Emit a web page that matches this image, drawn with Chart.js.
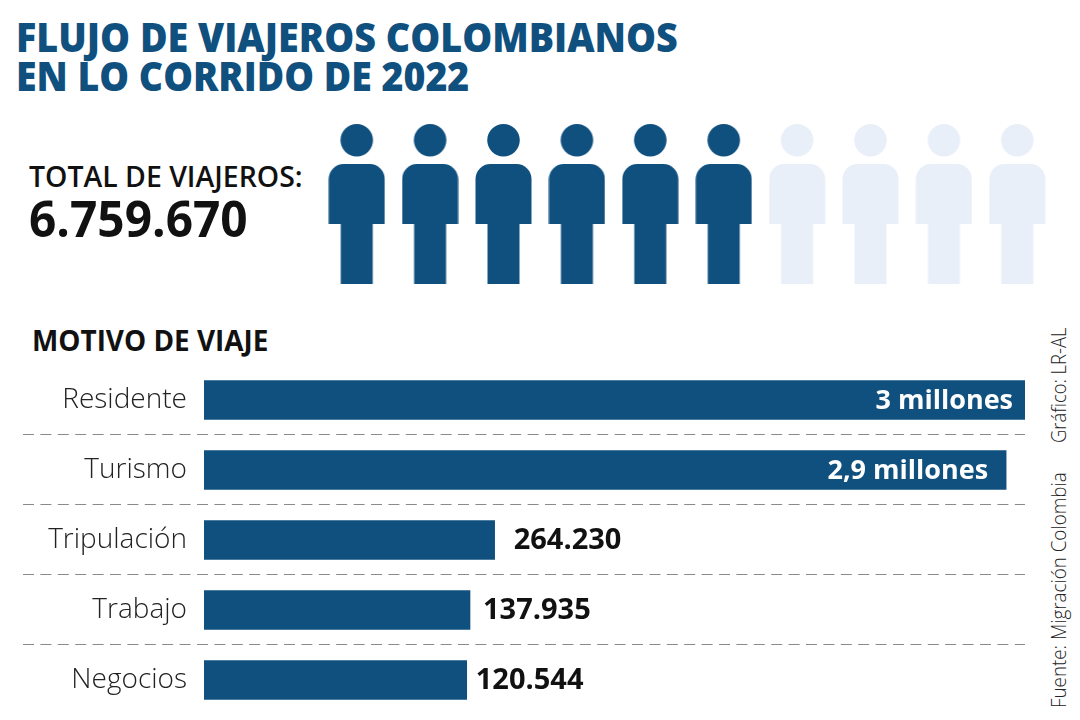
<!DOCTYPE html>
<html lang="es">
<head>
<meta charset="utf-8">
<title>Flujo de viajeros colombianos</title>
<script src="https://cdn.jsdelivr.net/npm/chart.js@4"></script>
<style>
  html, body { margin: 0; padding: 0; background: #fff; }
  body { width: 1080px; height: 720px; position: relative; overflow: hidden; font-family: "Open Sans", sans-serif; }
  .txt { position: absolute; white-space: nowrap; line-height: 1; transform-origin: 0 0; }
  canvas { position: absolute; }
  #bars { left: 0; top: 0; }
  #people { left: 320px; top: 114px; }
</style>
</head>
<body>
<div class="txt" data-w="662" style="left:16px;top:16px;font-size:41px;font-weight:800;color:#10507f">FLUJO DE VIAJEROS COLOMBIANOS</div>
<div class="txt" data-w="453" style="left:16px;top:55px;font-size:41px;font-weight:800;color:#10507f">EN LO CORRIDO DE 2022</div>
<div class="txt" data-w="274" style="left:29px;top:162px;font-size:28px;font-weight:600;color:#111">TOTAL DE VIAJEROS:</div>
<div class="txt" data-w="219" style="left:29px;top:193px;font-size:50px;font-weight:700;color:#111">6.759.670</div>
<div class="txt" data-w="236" style="left:32px;top:326px;font-size:28px;font-weight:700;color:#111">MOTIVO DE VIAJE</div>
<div class="txt" data-w="115" data-rot="1" style="left:1049px;top:443px;font-size:20px;font-weight:300;color:#222">Gráfico: LR-AL</div>
<div class="txt" data-w="236" data-rot="1" style="left:1049px;top:708px;font-size:20px;font-weight:300;color:#222">Fuente: Migración Colombia</div>

<canvas id="people" width="734" height="180"></canvas>
<canvas id="bars" width="1080" height="720"></canvas>

<script>
const categories = ['Residente', 'Turismo', 'Tripulación', 'Trabajo', 'Negocios'];
// bar lengths as drawn in the graphic (not to true scale), % of the longest bar
const barLengths = [100, 97.7, 35.4, 32.4, 32.0];
const valueLabels = ['3 millones', '2,9 millones', '264.230', '137.935', '120.544'];

const iconLabels = ['1', '2', '3', '4', '5', '6', '7', '8', '9', '10'];
const iconValues = [1, 1, 1, 1, 1, 1, 1, 1, 1, 1];
const iconsFilled = 6;

const BLUE = '#10507f';
const PALE = '#e9eff8';
const labelGaps = [-12, -18, 19, 13, 9];

// squeeze html text to the measured width, Open Sans runs wider than the original
document.querySelectorAll('.txt').forEach((el) => {
  const k = Number(el.dataset.w) / el.offsetWidth;
  el.style.transform = el.dataset.rot ? `rotate(-90deg) scaleX(${k})` : `scaleX(${k})`;
});

function personIcon(color) {
  const c = document.createElement('canvas');
  c.width = 57;
  c.height = 160;
  const ctx = c.getContext('2d');
  ctx.fillStyle = color;
  ctx.beginPath();
  ctx.arc(28.5, 16.25, 16.25, 0, Math.PI * 2);
  ctx.fill();
  ctx.beginPath();
  ctx.roundRect(0.5, 40, 56, 60, [15, 15, 0, 0]);
  ctx.fill();
  ctx.fillRect(12.5, 99.5, 32, 60.5);
  return c;
}

const fullIcon = personIcon(BLUE);
const paleIcon = personIcon(PALE);

new Chart(document.getElementById('people'), {
  type: 'line',
  data: {
    labels: iconLabels,
    datasets: [{
      data: iconValues,
      showLine: false,
      clip: false,
      pointStyle: (ctx) => (ctx.dataIndex < iconsFilled ? fullIcon : paleIcon),
      pointRadius: 30,
    }],
  },
  options: {
    responsive: false,
    animation: false,
    layout: { padding: 0, autoPadding: false },
    plugins: { legend: { display: false }, tooltip: { enabled: false } },
    scales: {
      x: { display: false, offset: true },
      y: { display: false, min: 0, max: 2 },
    },
  },
});

const separators = {
  id: 'separators',
  beforeDatasetsDraw(chart) {
    const { ctx, chartArea, scales } = chart;
    ctx.save();
    ctx.strokeStyle = '#8a8a8a';
    ctx.lineWidth = 1.2;
    ctx.setLineDash([11, 6.4]);
    for (let i = 0; i < categories.length - 1; i++) {
      const y = Math.round((scales.y.getPixelForValue(i) + scales.y.getPixelForValue(i + 1)) / 2) - 0.5;
      ctx.beginPath();
      ctx.moveTo(23, y);
      ctx.lineTo(chartArea.right, y);
      ctx.stroke();
    }
    ctx.restore();
  },
};

const valueTags = {
  id: 'valueTags',
  afterDatasetsDraw(chart) {
    const { ctx } = chart;
    ctx.save();
    ctx.textBaseline = 'middle';
    chart.getDatasetMeta(0).data.forEach((bar, i) => {
      const gap = labelGaps[i];
      const inside = gap < 0;
      ctx.font = inside ? '700 27px "Open Sans"' : '700 29px "Open Sans"';
      ctx.fillStyle = inside ? '#fff' : '#111';
      ctx.textAlign = inside ? 'right' : 'left';
      ctx.fillText(valueLabels[i], bar.x + gap, bar.y + 1);
    });
    ctx.restore();
  },
};

new Chart(document.getElementById('bars'), {
  type: 'bar',
  data: {
    labels: categories,
    datasets: [{
      data: barLengths,
      backgroundColor: BLUE,
      barThickness: 39,
    }],
  },
  plugins: [separators, valueTags],
  options: {
    responsive: false,
    animation: false,
    indexAxis: 'y',
    layout: { autoPadding: false, padding: { top: 365, right: 55, bottom: 5, left: 0 } },
    plugins: { legend: { display: false }, tooltip: { enabled: false } },
    scales: {
      x: { display: false, min: 0, max: 100 },
      y: {
        // tick padding otherwise eats into the bottom of the chart area
        afterFit(scale) {
          scale.width = 204;
          scale.paddingTop = 0;
          scale.paddingBottom = 0;
        },
        border: { display: false },
        grid: { display: false, drawTicks: false },
        ticks: {
          padding: 17,
          color: '#222',
          font: { family: '"Open Sans"', size: 28, weight: 300 },
        },
      },
    },
  },
});
</script>
</body>
</html>
